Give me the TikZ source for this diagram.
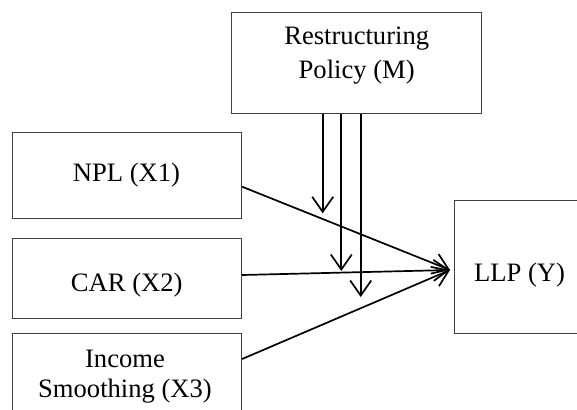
\documentclass[tikz,border=0pt]{standalone}
\usepackage{fontspec}
\setmainfont{Liberation Serif}
\usepackage{tikz}
\usetikzlibrary{arrows.meta}

\begin{document}
\begin{tikzpicture}[x=1pt, y=-1pt,
    box/.style={draw=black!75, line width=0.8pt, inner sep=0pt},
    lbl/.style={font=\fontsize{26.6}{31}\selectfont, inner sep=0pt, anchor=base},
    link/.style={line width=1.7pt, -{Straight Barb[length=15pt, width=21pt]}}]
                        \useasboundingbox (0,0) rectangle (577,409);
                        % boxes
                        \node[box, minimum width=250pt, minimum height=101pt] (rp) at (356.7,62.8) {};
                        \node[box, minimum width=229.4pt, minimum height=86pt] (npl) at (127,175.3) {};
                        \node[box, minimum width=229.4pt, minimum height=80pt] (car) at (127,278.3) {};
                        \node[box, minimum width=229.4pt, minimum height=90pt] (inc) at (127,378.3) {};
                        \node[box, minimum width=140pt, minimum height=133.3pt] (llp) at (524,266.7) {};
                        % texts
                        \node[lbl] (rp-a) at (356.7,45) {Restructuring};
                        \node[lbl] (rp-b) at (356.7,79) {Policy (M)};
                        \node[lbl] (npl-t) at (126.5,181) {NPL (X1)};
                        \node[lbl] (car-t) at (126.7,291) {CAR (X2)};
                        \node[lbl] (inc-a) at (125,367.3) {Income};
                        \node[lbl] (inc-b) at (125,397.7) {Smoothing (X3)};
                        \node[lbl] (llp-t) at (519.5,281) {LLP (Y)};
                        % arrows
                        \coordinate (hub) at (450,270);
                        \coordinate (m1) at (322.7,213.3);
                        \coordinate (m2) at (341.3,271);
                        \coordinate (m3) at (360.7,297);
                        \draw[link] ([yshift=-11.4pt]npl.east) -- (hub);
                        \draw[link] ([yshift=3.3pt]car.east) -- (hub);
                        \draw[link] ([yshift=19.3pt]inc.east) -- (hub);
                        \foreach \m in {m1,m2,m3}
                        \draw[link] (rp.south -| \m) -- (\m);
                    \end{tikzpicture}
\end{document}
